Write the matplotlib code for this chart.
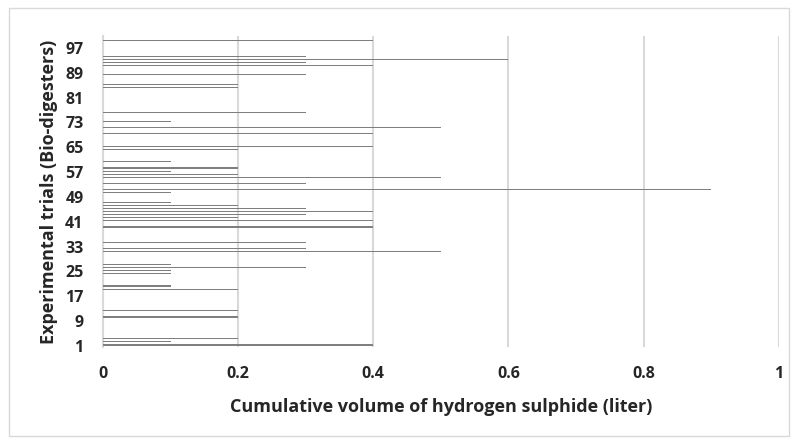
import matplotlib
matplotlib.use("Agg")
import matplotlib.pyplot as plt
from matplotlib.patches import Rectangle

# Data: trial number -> cumulative H2S volume (liter); trials not listed are 0
trials = list(range(1, 101))
nonzero_trials = [1, 2, 3, 10, 12, 19, 20, 24, 25, 26, 27, 31, 32, 34, 39, 41, 42, 43, 44, 45,
                  46, 47, 50, 51, 53, 55, 56, 57, 58, 60, 64, 65, 69, 71, 73, 76, 84, 85, 88,
                  91, 92, 93, 94, 99]
nonzero_values = [0.4, 0.1, 0.2, 0.2, 0.2, 0.2, 0.1, 0.1, 0.1, 0.3, 0.1, 0.5, 0.3, 0.3, 0.4, 0.4,
                  0.2, 0.3, 0.4, 0.3, 0.2, 0.1, 0.1, 0.9, 0.3, 0.5, 0.2, 0.1, 0.2, 0.1, 0.2, 0.4,
                  0.4, 0.5, 0.1, 0.3, 0.2, 0.2, 0.3, 0.4, 0.3, 0.6, 0.3, 0.4]
lookup = dict(zip(nonzero_trials, nonzero_values))
values = [lookup.get(t, 0.0) for t in trials]

ytick_labels = [1, 9, 17, 25, 33, 41, 49, 57, 65, 73, 81, 89, 97]
xticks = [0, 0.2, 0.4, 0.6, 0.8, 1.0]
xtick_labels = ["0", "0.2", "0.4", "0.6", "0.8", "1"]

plt.rcParams['font.family'] = ['Open Sans', 'DejaVu Sans']

fig = plt.figure(figsize=(7.98, 4.39), dpi=100)
ax = fig.add_axes([0.129, 0.2084, 0.847, 0.7073])

ax.barh(trials, values, height=0.35, color="#7f7f7f", linewidth=0, zorder=3)

ax.set_xlim(0, 1)
ax.set_ylim(0.5, 100.5)
ax.set_xticks(xticks)
ax.set_xticklabels(xtick_labels, fontsize=11.5, fontweight="bold", color="#262626")
ax.set_yticks(ytick_labels)
ax.set_yticklabels([str(v) for v in ytick_labels], fontsize=11.5, fontweight="bold", color="#262626")
ax.tick_params(axis="both", length=0)
ax.tick_params(axis="y", pad=14)
ax.tick_params(axis="x", pad=13)

ax.grid(axis="x", color="#d9d9d9", linewidth=1.5, zorder=0)
for s in ["top", "right", "bottom"]:
    ax.spines[s].set_visible(False)
ax.spines["left"].set_color("#d9d9d9")
ax.spines["left"].set_linewidth(1.5)

ax.set_xlabel("Cumulative volume of hydrogen sulphide (liter)", fontsize=13,
              fontweight="bold", color="#262626", labelpad=12)
ax.set_ylabel("Experimental trials (Bio-digesters)", fontsize=13,
              fontweight="bold", color="#262626", labelpad=5)

fig.patches.append(Rectangle((0.011, 0.005), 0.978, 0.975, transform=fig.transFigure,
                             fill=False, edgecolor="#d9d9d9", linewidth=1))

fig.savefig("out.png", dpi=100, facecolor="white")
